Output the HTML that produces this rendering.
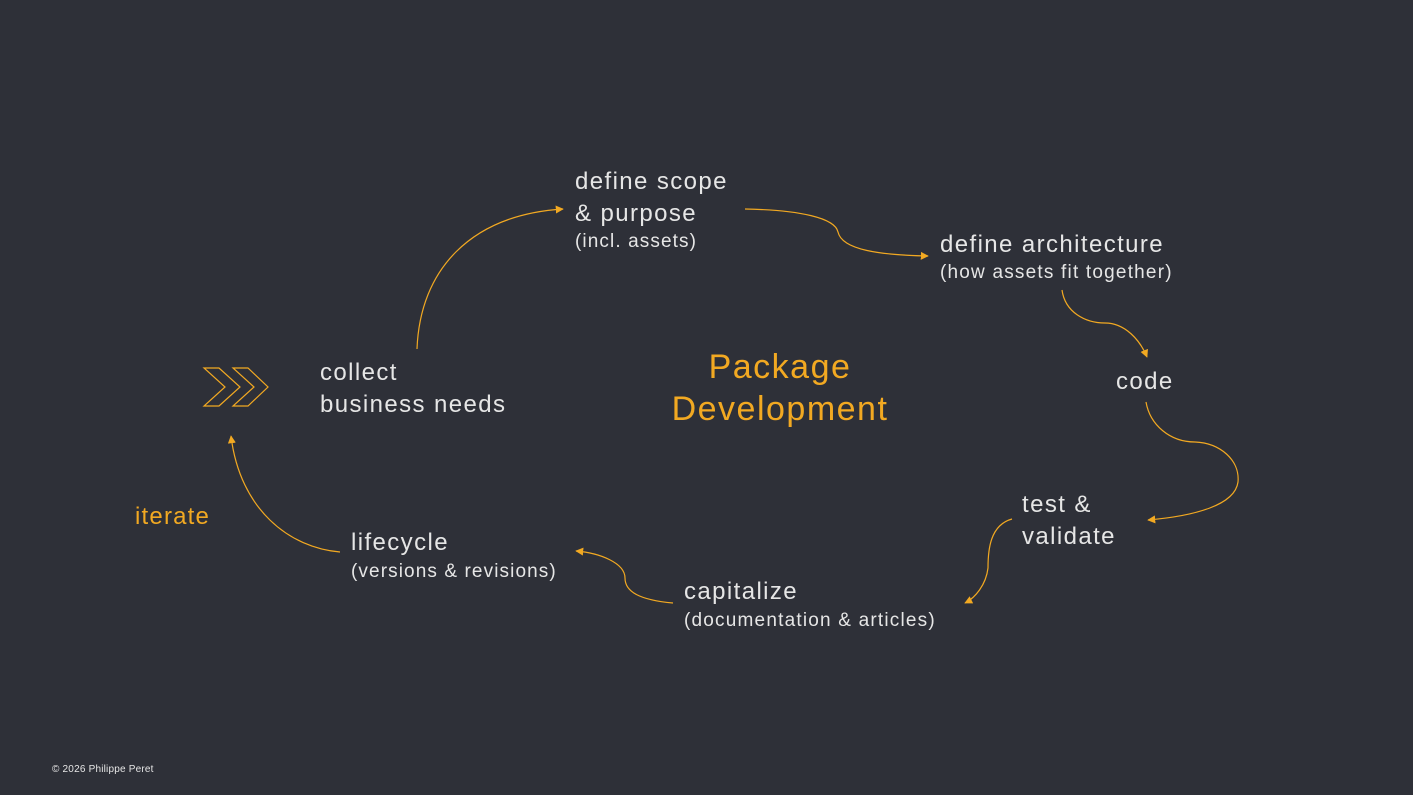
<!DOCTYPE html>
<html><head><meta charset="utf-8"><style>
html,body{margin:0;padding:0;background:#2e3038;}
svg{display:block}
text{font-family:"Liberation Sans",sans-serif;}
</style></head><body>
<svg width="1413" height="795" viewBox="0 0 1413 795" xmlns="http://www.w3.org/2000/svg">
<rect width="1413" height="795" fill="#2e3038"/>
<defs>
<marker id="a" viewBox="0 0 10 10" refX="9" refY="5" markerWidth="8" markerHeight="8" orient="auto-start-reverse" markerUnits="userSpaceOnUse">
<path d="M0,0 L10,5 L0,10 z" fill="#f2a922"/>
</marker>
</defs>
<g fill="none" stroke="#f2a922" stroke-width="1.2">
<path d="M417,349 C420,270 470,215 563,209" marker-end="url(#a)"/>
<path d="M745,209 C800,210 835,218 838,232 C842,250 880,255 928,256" marker-end="url(#a)"/>
<path d="M1062,290 C1065,312 1085,323 1105,323 C1125,323 1140,340 1147,357" marker-end="url(#a)"/>
<path d="M1146,402 C1150,425 1170,442 1195,442 C1220,443 1240,460 1238,482 C1235,505 1195,516 1148,520" marker-end="url(#a)"/>
<path d="M1012,519 C990,525 988,550 988,568 C986,585 975,598 965,603" marker-end="url(#a)"/>
<path d="M673,603 C640,600 625,592 625,578 C625,563 600,553 576,551" marker-end="url(#a)"/>
<path d="M340,552 C290,548 240,510 231,436" marker-end="url(#a)"/>
<path d="M204,368 L219,368 L240,387 L219,406 L204,406 L225,387 Z"/>
<path d="M233,368 L248,368 L268,387 L248,406 L233,406 L254,387 Z"/>
</g>
<g fill="#e6e6e6" font-size="24" letter-spacing="1.4">
<text x="575" y="189">define scope</text>
<text x="575" y="221">&amp; purpose</text>
<text x="575" y="247" font-size="19" letter-spacing="1.1">(incl. assets)</text>
<text x="940" y="252">define architecture</text>
<text x="940" y="278" font-size="19" letter-spacing="1.2">(how assets fit together)</text>
<text x="1116" y="389">code</text>
<text x="320" y="380">collect</text>
<text x="320" y="412">business needs</text>
<text x="1022" y="512">test &amp;</text>
<text x="1022" y="544">validate</text>
<text x="684" y="599">capitalize</text>
<text x="684" y="626" font-size="19" letter-spacing="1.2">(documentation &amp; articles)</text>
<text x="351" y="550">lifecycle</text>
<text x="351" y="577" font-size="19" letter-spacing="1.1">(versions &amp; revisions)</text>
<text x="52" y="772" font-size="10" letter-spacing="0.2">© 2026 Philippe Peret</text>
</g>
<g fill="#f2a922" letter-spacing="1.5">
<text x="780" y="378" font-size="34" text-anchor="middle">Package</text>
<text x="780" y="420" font-size="34" text-anchor="middle">Development</text>
<text x="135" y="524" font-size="24" letter-spacing="1.2">iterate</text>
</g>
</svg>
</body></html>
